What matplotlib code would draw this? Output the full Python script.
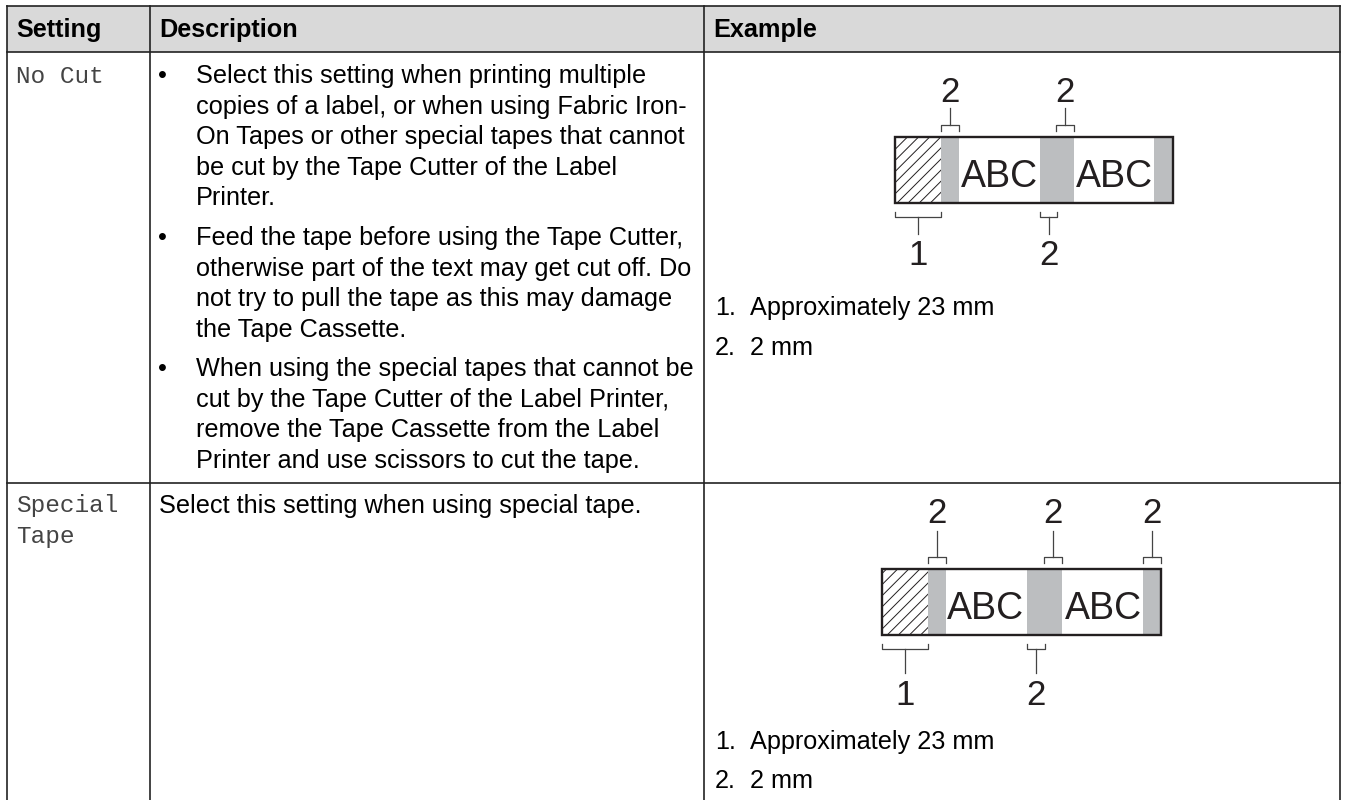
"""
Label printer cut settings table, redrawn in pixel coordinates.
"""

import matplotlib
matplotlib.use('Agg')
import matplotlib.pyplot as plt
from matplotlib.patches import Rectangle

plt.rcParams['hatch.linewidth'] = 0.7

W, H = 1346, 800
SANS = 'Liberation Sans'
MONO = 'Liberation Mono'
INK = '#231f20'
SHADE = '#bcbec0'

headers = ['Setting', 'Description', 'Example']
settings = [['No Cut'], ['Special', 'Tape']]
bullets = [
    ['Select this setting when printing multiple',
     'copies of a label, or when using Fabric Iron-',
     'On Tapes or other special tapes that cannot',
     'be cut by the Tape Cutter of the Label',
     'Printer.'],
    ['Feed the tape before using the Tape Cutter,',
     'otherwise part of the text may get cut off. Do',
     'not try to pull the tape as this may damage',
     'the Tape Cassette.'],
    ['When using the special tapes that cannot be',
     'cut by the Tape Cutter of the Label Printer,',
     'remove the Tape Cassette from the Label',
     'Printer and use scissors to cut the tape.'],
]
bullet_y = [83, 245, 376]
special_desc = 'Select this setting when using special tape.'
notes = ['Approximately 23 mm', '2 mm']
note_y = [[315, 355], [749, 788]]

col_x = [7, 150, 704, 1340]
row_y = [6, 52, 483, 800]
line_h = 30.6
FS = 18.15


def bracket(ax, x0, x1, y, tip, stem):
    # little bracket with a stem, tip is the side the feet point to
    mid = (x0 + x1) / 2
    ax.plot([x0, x0, x1, x1], [y + tip, y, y, y + tip], color='#444444', lw=0.9)
    ax.plot([mid, mid], [y, y + stem], color='#444444', lw=0.9)


def tape(ax, left, top, width, groups, abc_x, labels, top_stem, bot_stem, top_base, bot_base):
    # tape strip: hatched leader, grey margins, two ABC blocks
    height = 66
    ax.add_patch(Rectangle((left, top), 46, height, facecolor='white', edgecolor=INK,
                           hatch='///', lw=0))
    for x, w in groups:
        ax.add_patch(Rectangle((left + x, top), w, height, facecolor=SHADE, edgecolor='none'))
    ax.add_patch(Rectangle((left, top), width, height, facecolor='none', edgecolor=INK, lw=1.7))
    for x in abc_x:
        ax.text(left + x, top + 50, 'ABC', family=SANS, fontsize=27, color=INK, ha='center', va='baseline')
    for x0, x1, side, label in labels:
        mid = (x0 + x1) / 2
        if side == 'top':
            bracket(ax, left + x0, left + x1, top - 12, 6, -top_stem)
            ax.text(left + mid, top - top_base, label, family=SANS, fontsize=25, color=INK, ha='center', va='baseline')
        else:
            bracket(ax, left + x0, left + x1, top + height + 14, -5, bot_stem)
            ax.text(left + mid, top + height + bot_base, label, family=SANS, fontsize=25,
                    color=INK, ha='center', va='baseline')


fig = plt.figure(figsize=(W / 100, H / 100), dpi=100)
ax = fig.add_axes([0, 0, 1, 1])
ax.set_xlim(0, W)
ax.set_ylim(H, 0)
ax.axis('off')

# header band and grid
ax.add_patch(Rectangle((col_x[0], row_y[0]), col_x[3] - col_x[0], row_y[1] - row_y[0], facecolor='#d9d9d9', edgecolor='none'))
for y in row_y[:3]:
    ax.plot([col_x[0], col_x[3]], [y, y], color='#222222', lw=1.2)
for x in col_x:
    ax.plot([x, x], [row_y[0], row_y[3]], color='#222222', lw=1.2)

for x, label in zip(col_x, headers):
    ax.text(x + 9, 37.5, label, family=SANS, fontweight='bold', fontsize=FS, color='black', va='baseline')

for lines, y in zip(settings, [83, 512]):
    for i, s in enumerate(lines):
        ax.text(16, y + i * 31, s, family=MONO, fontsize=17.6, color='#444444', va='baseline')

for lines, y in zip(bullets, bullet_y):
    ax.text(162, y, '•', family=SANS, fontsize=FS, color='black', ha='center', va='baseline')
    for i, s in enumerate(lines):
        ax.text(196, y + i * line_h, s, family=SANS, fontsize=FS, color='black', va='baseline')
ax.text(159, 513, special_desc, family=SANS, fontsize=FS, color='black', va='baseline')

tape(ax, 895, 137, 278, [(46, 18), (145, 34), (259, 19)], [104.5, 219],
     [(46, 64, 'top', '2'), (161, 179, 'top', '2'), (0, 46, 'bottom', '1'), (145, 162, 'bottom', '2')],
     17, 17, 35, 62)
tape(ax, 882, 569, 279, [(46, 18), (145, 35), (261, 18)], [103.5, 221],
     [(46, 64, 'top', '2'), (162, 180, 'top', '2'), (261, 279, 'top', '2'), (0, 46, 'bottom', '1'), (145, 163, 'bottom', '2')],
     26, 24, 46, 70)

for ys in note_y:
    for i, (y, s) in enumerate(zip(ys, notes)):
        ax.text(715, y, f'{i + 1}.', family=SANS, fontsize=FS, color='black', va='baseline')
        ax.text(750, y, s, family=SANS, fontsize=FS, color='black', va='baseline')

fig.savefig('out.png', dpi=100)
